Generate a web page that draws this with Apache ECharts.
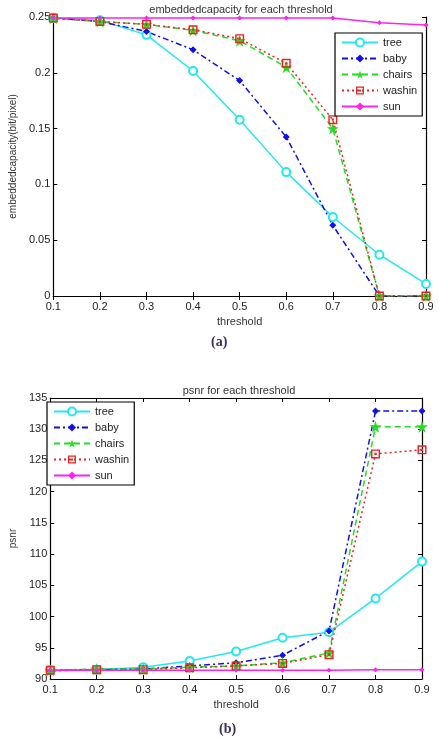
<!DOCTYPE html>
<html>
<head>
<meta charset="utf-8">
<script src="https://cdn.jsdelivr.net/npm/echarts@6/dist/echarts.min.js"></script>
<style>
  html, body { margin: 0; padding: 0; background: #fff; }
  #chart { width: 439px; height: 737px; }
</style>
</head>
<body>
<div id="chart"></div>
<script>
// x axis thresholds
var thresholds = ["0.1", "0.2", "0.3", "0.4", "0.5", "0.6", "0.7", "0.8", "0.9"];
var seriesNames = ["tree", "baby", "chairs", "washin", "sun"];

// (a) embedded capacity
var capTree   = [0.249, 0.247, 0.234, 0.2016, 0.158, 0.111, 0.0708, 0.037, 0.0108];
var capBaby   = [0.249, 0.246, 0.237, 0.2207, 0.193, 0.1425, 0.0633, 0, 0];
var capChairs = [0.249, 0.246, 0.2434, 0.238, 0.2288, 0.205, 0.150, 0, 0];
var capWashin = [0.249, 0.246, 0.2434, 0.2386, 0.2306, 0.2085, 0.158, 0, 0];
var capSun    = [0.249, 0.249, 0.249, 0.249, 0.249, 0.249, 0.249, 0.2449, 0.2428];

// (b) psnr
var psnrTree   = [91.4, 91.5, 91.9, 92.9, 94.4, 96.6, 97.5, 102.9, 108.8];
var psnrBaby   = [91.3, 91.5, 91.6, 92.1, 92.6, 93.8, 97.7, 132.9, 132.9];
var psnrChairs = [91.4, 91.6, 91.6, 91.9, 92.1, 92.6, 94.2, 130.4, 130.4];
var psnrWashin = [91.4, 91.5, 91.5, 91.8, 92.1, 92.5, 93.9, 126.05, 126.7];
var psnrSun    = [91.4, 91.4, 91.4, 91.4, 91.4, 91.4, 91.4, 91.5, 91.5];

var font = "Liberation Sans";
var starPath = "path://M50,0 L61,35 L98,35 L68,57 L79,91 L50,70 L21,91 L32,57 L2,35 L39,35 Z";
var boxDotPath = "path://M0,0 L100,0 L100,100 L0,100 Z M16,16 L16,84 L84,84 L84,16 Z M38,38 L62,38 L62,62 L38,62 Z";

var styles = {
  tree:   { color: "#22e8f0", type: "solid",      symbol: "emptyCircle", size: 8,  bw: 1.2 },
  baby:   { color: "#1010e8", type: [6, 3, 2, 3], symbol: "diamond",     size: 7,  bw: 0 },
  chairs: { color: "#22dd22", type: [6, 4],       symbol: starPath,      size: 12, bw: 0 },
  washin: { color: "#ee2222", type: [2, 3],       symbol: boxDotPath,    size: 9,  bw: 0 },
  sun:    { color: "#ff22ee", type: "solid",      symbol: "diamond",     size: 5,  bw: 0 }
};

function mk(name, data, idx) {
  var s = styles[name];
  return {
    name: name, type: "line", data: data,
    xAxisIndex: idx * 2, yAxisIndex: idx * 2,
    symbol: s.symbol, symbolSize: s.size, showSymbol: true,
    color: s.color,
    itemStyle: { color: s.color, borderColor: s.color, borderWidth: s.bw },
    lineStyle: { color: s.color, width: 1.5, type: s.type },
    animation: false
  };
}

function xAxes(gi) {
  return [{
    type: "category", gridIndex: gi, data: thresholds, boundaryGap: false,
    name: "threshold", nameLocation: "middle", nameGap: 20,
    nameTextStyle: { fontFamily: font, fontSize: 11, color: "#333" },
    axisLine: { lineStyle: { color: "#000", width: 1.2 } },
    axisTick: { inside: true, length: 4, lineStyle: { color: "#000" } },
    axisLabel: { fontFamily: font, fontSize: 11, color: "#222", margin: 5 },
    splitLine: { show: false }
  }, {
    type: "category", gridIndex: gi, data: thresholds, boundaryGap: false, position: "top",
    axisLine: { lineStyle: { color: "#000", width: 1.2 } },
    axisTick: { inside: true, length: 4, lineStyle: { color: "#000" } },
    axisLabel: { show: false }, splitLine: { show: false }
  }];
}

function yAxes(gi, min, max, interval, name, nameGap) {
  return [{
    type: "value", gridIndex: gi, min: min, max: max, interval: interval,
    name: name, nameLocation: "middle", nameGap: nameGap,
    nameTextStyle: { fontFamily: font, fontSize: 10, color: "#333" },
    axisLine: { show: true, lineStyle: { color: "#000", width: 1.2 } },
    axisTick: { show: true, inside: true, length: 4, lineStyle: { color: "#000" } },
    axisLabel: { fontFamily: font, fontSize: 11, color: "#222", margin: 3 },
    splitLine: { show: false }
  }, {
    type: "value", gridIndex: gi, min: min, max: max, interval: interval, position: "right",
    axisLine: { show: true, lineStyle: { color: "#000", width: 1.2 } },
    axisTick: { show: true, inside: true, length: 4, lineStyle: { color: "#000" } },
    axisLabel: { show: false }, splitLine: { show: false }
  }];
}

function legendAt(left, top) {
  return {
    orient: "vertical", left: left, top: top, data: seriesNames,
    backgroundColor: "#fff", borderColor: "#000", borderWidth: 1.2,
    padding: [4, 5, 4, 6], itemGap: 5, itemWidth: 36, itemHeight: 10,
    textStyle: { fontFamily: font, fontSize: 11, color: "#222" }
  };
}

var chart = echarts.init(document.getElementById("chart"));
chart.setOption({
  animation: false,
  backgroundColor: "#fff",
  title: [
    { text: "embeddedcapacity for each threshold", left: 236, top: -1, textAlign: "center",
      textStyle: { fontFamily: font, fontSize: 11, fontWeight: "normal", color: "#333" } },
    { text: "psnr for each threshold", left: 234, top: 380, textAlign: "center",
      textStyle: { fontFamily: font, fontSize: 11, fontWeight: "normal", color: "#333" } }
  ],
  grid: [
    { left: 48, right: 13, top: 17, height: 279 },
    { left: 48, right: 17, top: 398, height: 281 }
  ],
  xAxis: xAxes(0).concat(xAxes(1)),
  yAxis: yAxes(0, 0, 0.25, 0.05, "embeddedcapacity(bit/pixel)", 33)
    .concat(yAxes(1, 90, 135, 5, "psnr", 31)),
  legend: [legendAt(335, 33), legendAt(47, 402)],
  graphic: [
    { type: "text", left: 211, top: 335,
      style: { text: "(a)", fontFamily: "Liberation Serif", fontSize: 14, fontWeight: "bold", fill: "#3b2c5c" } },
    { type: "text", left: 219, top: 722,
      style: { text: "(b)", fontFamily: "Liberation Serif", fontSize: 14, fontWeight: "bold", fill: "#3b2c5c" } }
  ],
  series: [
    mk("tree", capTree, 0), mk("baby", capBaby, 0), mk("chairs", capChairs, 0),
    mk("washin", capWashin, 0), mk("sun", capSun, 0),
    mk("tree", psnrTree, 1), mk("baby", psnrBaby, 1), mk("chairs", psnrChairs, 1),
    mk("washin", psnrWashin, 1), mk("sun", psnrSun, 1)
  ]
});
</script>
</body>
</html>
